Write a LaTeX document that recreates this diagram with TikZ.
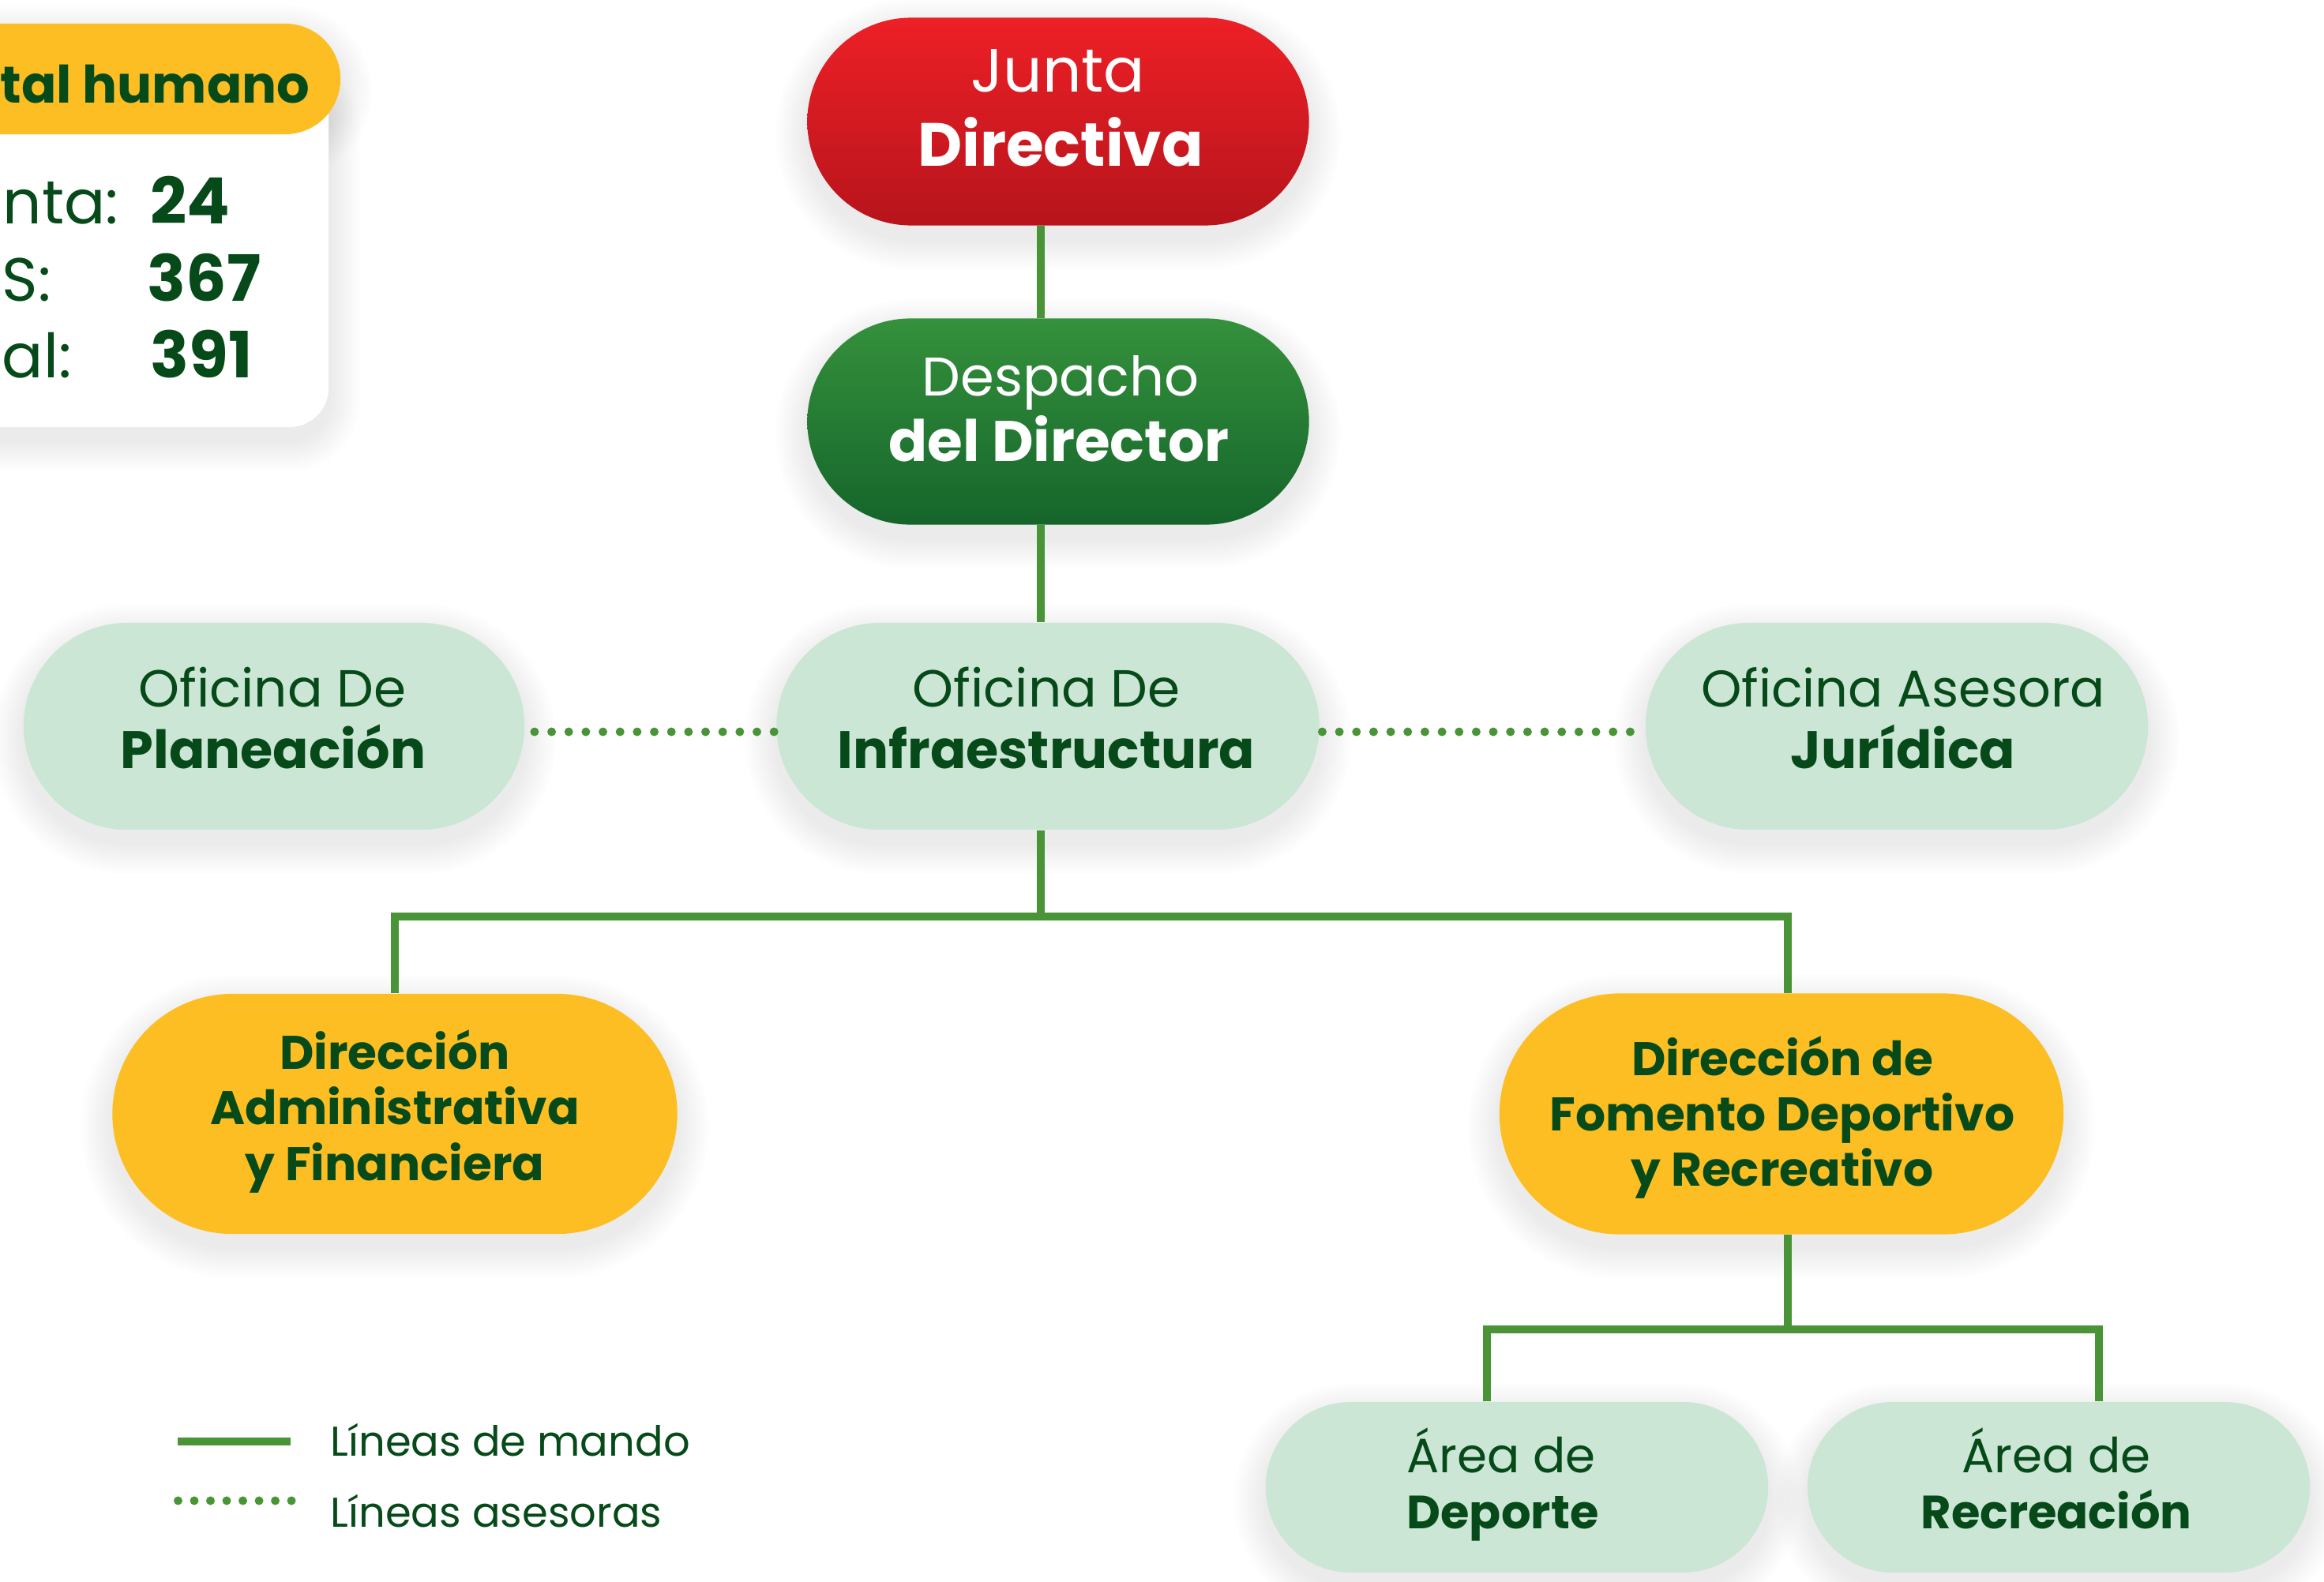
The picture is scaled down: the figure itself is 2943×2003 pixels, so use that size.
\documentclass[tikz,border=0pt]{standalone}
\usepackage{fontspec}
\setmainfont{Poppins}
\usetikzlibrary{calc}
\definecolor{yel}{RGB}{252,190,34}
\definecolor{mint}{RGB}{204,230,214}
\definecolor{txtg}{RGB}{7,74,25}
\definecolor{lineg}{RGB}{74,148,56}
\definecolor{redtop}{RGB}{237,32,38}
\definecolor{redbot}{RGB}{183,20,28}
\definecolor{grntop}{RGB}{53,145,60}
\definecolor{grnbot}{RGB}{21,101,43}
\newcommand\myfs[1]{\fontsize{#1}{#1}\selectfont}
\newcommand\softshadow[5]{%
  \foreach \k in {1,...,10}{%
    \pgfmathsetmacro\xa{#1-#3/2-4*\k}%
    \pgfmathsetmacro\xb{#1+#3/2+4*\k}%
    \pgfmathsetmacro\ya{#2-#4/2-4*\k+16}%
    \pgfmathsetmacro\yb{#2+#4/2+4*\k+16}%
    \pgfmathsetmacro\rr{(#5+4*\k)*0.01}%
    \fill[black,opacity=0.007,rounded corners=\rr cm] (\xa,\ya) rectangle (\xb,\yb);
  }}
\tikzset{
  pillbox/.style n args={3}{rectangle, rounded corners=#3, minimum width=#1, minimum height=#2, inner sep=0pt, draw=none},
  cmd/.style={draw=lineg, line width=0.1cm},
  adv/.style={draw=lineg, line width=0.11cm, line cap=round, dash pattern=on 0cm off 0.2165cm},
  txt/.style={anchor=base, inner sep=0pt, text=txtg},
}
\begin{document}
\begin{tikzpicture}[x=0.01cm,y=-0.01cm]
\useasboundingbox (0,0) rectangle (2943,2003);
\clip (0,0) rectangle (2943,2003);
\fill[white] (0,0) rectangle (2943,2003);

% shadows
\softshadow{150}{320}{532}{442}{50}
\softshadow{115}{100}{632}{140}{70}
\softshadow{1340}{154}{635}{263}{131}
\softshadow{1340}{534}{635}{261}{130}
\softshadow{347}{920}{634}{262}{131}
\softshadow{1327}{920}{687}{262}{131}
\softshadow{2402}{920}{636}{262}{131}
\softshadow{500}{1411}{715}{304}{152}
\softshadow{2256}{1411}{714}{305}{152}
\softshadow{1921}{1884}{636}{216}{108}
\softshadow{2607}{1884}{636}{216}{108}

% capital humano card
\node[pillbox={5.32cm}{4.42cm}{0.5cm}, fill=white] (card) at (150,320) {};
\node[pillbox={6.32cm}{1.40cm}{0.70cm}, fill=yel] (head) at (115,100) {};
\node[txt, anchor=base east, font=\bfseries\myfs{18.6pt}] (htxt) at (393,130) {tal humano};
\node[txt, anchor=base west, font=\myfs{22pt}] (l1) at (3,284) {nta:};
\node[txt, anchor=base west, font=\myfs{22pt}] (l2) at (2,381) {S:};
\node[txt, anchor=base west, font=\myfs{22pt}] (l3) at (2,478) {al:};
\node[txt, anchor=base west, font=\bfseries\myfs{23pt}] (n1) at (190,284) {24};
\node[txt, anchor=base west, font=\bfseries\myfs{23pt}] (n2) at (186,381) {367};
\node[txt, anchor=base west, font=\bfseries\myfs{23pt}] (n3) at (190,478) {391};

% boxes
\node[pillbox={6.35cm}{2.63cm}{1.315cm}, top color=redtop, bottom color=redbot] (junta) at (1340,154) {};
\node[pillbox={6.35cm}{2.61cm}{1.305cm}, top color=grntop, bottom color=grnbot] (desp) at (1340,534) {};
\node[pillbox={6.34cm}{2.62cm}{1.31cm}, fill=mint] (plan) at (347,920) {};
\node[pillbox={6.87cm}{2.62cm}{1.31cm}, fill=mint] (infra) at (1327,920) {};
\node[pillbox={6.36cm}{2.62cm}{1.31cm}, fill=mint] (jur) at (2402,920) {};
\node[pillbox={7.15cm}{3.04cm}{1.52cm}, fill=yel] (adm) at (500,1411) {};
\node[pillbox={7.14cm}{3.05cm}{1.525cm}, fill=yel] (fom) at (2256,1411) {};
\node[pillbox={6.36cm}{2.16cm}{1.08cm}, fill=mint] (dep) at (1921,1884) {};
\node[pillbox={6.36cm}{2.16cm}{1.08cm}, fill=mint] (rec) at (2607,1884) {};

% connectors
\coordinate (vx) at (1318,0);
\coordinate (b1) at (1318,1161);
\coordinate (b2) at (2264,1684);
\path (fom.north) ++(8,0) coordinate (f1);
\path (fom.south) ++(8,0) coordinate (f2);
\path (dep.north) ++(-38,0) coordinate (d1);
\path (rec.north) ++(51,0) coordinate (r1);
\draw[cmd] (junta.south -| vx) -- (desp.north -| vx);
\draw[cmd] (desp.south -| vx) -- (infra.north -| vx);
\draw[cmd] (infra.south -| vx) -- (b1);
\draw[cmd] (adm.north) |- (b1) -| (f1);
\draw[cmd] (f2) -- (b2);
\draw[cmd] (d1) |- (b2) -| (r1);
\draw[adv] ($(plan.east)+(12,7)$) -- ($(infra.west)+(2,7)$);
\draw[adv] ($(infra.east)+(3,7)$) -- ($(jur.west)+(2,7)$);

% texts
\node[txt, text=white, font=\myfs{22pt}] (t1a) at (1340,117) {Junta};
\node[txt, text=white, font=\bfseries\myfs{22pt}] (t1b) at (1343,210) {Directiva};
\node[txt, text=white, font=\myfs{19.6pt}] (t2a) at (1343,501) {Despacho};
\node[txt, text=white, font=\bfseries\myfs{20.6pt}] (t2b) at (1341,584) {del Director};
\node[txt, font=\myfs{18.8pt}] (t3a) at (345,895) {Oficina De};
\node[txt, font=\bfseries\myfs{19pt}] (t3b) at (346,973) {Planeación};
\node[txt, font=\myfs{18.8pt}] (t4a) at (1325,895) {Oficina De};
\node[txt, font=\bfseries\myfs{19pt}] (t4b) at (1325,973) {Infraestructura};
\node[txt, font=\myfs{18.6pt}] (t5a) at (2410,895) {Oficina Asesora};
\node[txt, font=\bfseries\myfs{19pt}] (t5b) at (2410,973) {Jurídica};
\node[txt, font=\bfseries\myfs{17pt}] (t6a) at (500,1354) {Dirección};
\node[txt, font=\bfseries\myfs{17pt}] (t6b) at (500,1424) {Administrativa};
\node[txt, font=\bfseries\myfs{17pt}] (t6c) at (500,1495) {y Financiera};
\node[txt, font=\bfseries\myfs{17pt}] (t7a) at (2257,1362) {Dirección de};
\node[txt, font=\bfseries\myfs{17pt}] (t7b) at (2257,1432) {Fomento Deportivo};
\node[txt, font=\bfseries\myfs{17pt}] (t7c) at (2257,1502) {y Recreativo};
\node[txt, font=\myfs{17.4pt}] (t8a) at (1901,1865) {Área de};
\node[txt, font=\bfseries\myfs{16.8pt}] (t8b) at (1903,1936) {Deporte};
\node[txt, font=\myfs{17.4pt}] (t9a) at (2604,1865) {Área de};
\node[txt, font=\bfseries\myfs{16.8pt}] (t9b) at (2604,1936) {Recreación};

% legend
\coordinate (lg1a) at (225,1826);
\coordinate (lg1b) at (368,1826);
\coordinate (lg2a) at (225.5,1901);
\coordinate (lg2b) at (370,1901);
\draw[cmd] (lg1a) -- (lg1b);
\draw[adv, dash pattern=on 0cm off 0.205cm] (lg2a) -- (lg2b);
\node[txt, anchor=base west, font=\myfs{15pt}] (lt1) at (418,1844) {Líneas de mando};
\node[txt, anchor=base west, font=\myfs{15pt}] (lt2) at (418,1934) {Líneas asesoras};
\end{tikzpicture}
\end{document}
